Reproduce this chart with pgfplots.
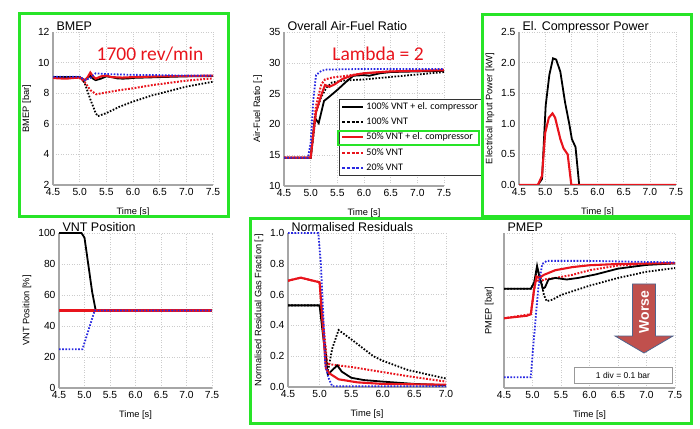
\documentclass[border=0pt]{standalone}
\usepackage{pgfplots}
\pgfplotsset{compat=1.18}
\usepackage{fontspec}
\setmainfont{Liberation Sans}
\newfontfamily\carlito{Carlito}
\definecolor{myred}{RGB}{232,20,28}
\definecolor{myblue}{RGB}{40,40,225}
\definecolor{mygreen}{RGB}{40,228,40}
\definecolor{arrowfill}{RGB}{192,80,77}
\definecolor{arrowedge}{RGB}{80,100,140}
\pgfplotsset{
 every axis title shift=0pt,
 base/.style={
  scale only axis, axis lines*=left, enlargelimits=false,
  axis line style={draw=gray!70, line width=1.6pt},
  grid=major, grid style={gray!40, line width=0.5pt, dash pattern=on 1pt off 1.5pt},
  major tick length=0pt,
  tick label style={font=\fontsize{10.3}{12}\selectfont},
  label style={font=\fontsize{9.3}{11}\selectfont},
  xlabel style={yshift=-5pt},
  title style={at={(0,1)}, anchor=base west, yshift=1pt, font=\fontsize{12.5}{14}\selectfont},
  xlabel={Time [s]},
  xmin=4.5, xmax=7.5, xtick={4.5,5.0,5.5,6.0,6.5,7.0,7.5},
  xticklabel style={/pgf/number format/.cd, fixed, fixed zerofill, precision=1},
  /pgf/number format/assume math mode=true,
  every axis plot/.append style={line width=1.8pt},
 },
 blk/.style={black, solid},
 blkd/.style={black, dash pattern=on 1.6pt off 1.6pt},
 rd/.style={myred, solid, line width=2.1pt},
 rdd/.style={myred, dash pattern=on 1.8pt off 1.5pt, line width=2.0pt},
 bld/.style={myblue, dash pattern=on 1.6pt off 1.6pt},
}
\begin{document}
\begin{tikzpicture}
\useasboundingbox (0,0) rectangle (700pt,428pt);

% ---------- BMEP ----------
\begin{axis}[base, at={(53pt,243pt)}, width=160pt, height=153pt,
  ymin=2, ymax=12, ytick={2,4,...,12}, ylabel={BMEP [bar]}, title={BMEP}]
\addplot[blkd] coordinates {(4.5,9.05)(5.0,9.05)(5.05,8.9)(5.1,8.6)(5.2,7.6)(5.3,6.7)(5.34,6.5)(5.5,6.7)(5.75,7.12)(6.0,7.45)(6.38,7.88)(6.5,7.98)(7.0,8.43)(7.5,8.75)};
\addplot[rdd] coordinates {(4.5,9.0)(5.0,9.0)(5.1,8.7)(5.2,8.2)(5.31,7.93)(5.5,8.05)(5.75,8.2)(6.0,8.32)(6.38,8.54)(7.0,8.82)(7.5,8.97)};
\addplot[blk] coordinates {(4.5,9.05)(5.0,9.05)(5.05,8.95)(5.1,8.85)(5.15,9.0)(5.2,9.15)(5.25,8.95)(5.3,8.85)(5.4,8.95)(5.5,9.1)(5.6,9.05)(5.7,8.97)(5.8,8.95)(5.9,8.96)(6.0,9.0)(6.5,9.05)(7.0,9.1)(7.5,9.12)};
\addplot[rd] coordinates {(4.5,9.0)(4.6,8.97)(4.75,8.95)(4.9,9.0)(5.0,9.02)(5.1,8.85)(5.15,9.05)(5.2,9.35)(5.25,9.1)(5.3,8.95)(5.4,9.1)(5.5,9.15)(5.6,9.05)(5.8,9.02)(6.0,9.05)(6.5,9.1)(7.0,9.12)(7.5,9.15)};
\addplot[bld] coordinates {(4.5,9.08)(5.0,9.08)(5.1,8.85)(5.2,9.0)(5.3,9.3)(5.5,9.25)(6.0,9.2)(6.5,9.18)(7.0,9.15)(7.5,9.15)};
\end{axis}

% ---------- AFR ----------
\begin{axis}[base, at={(284pt,242pt)}, width=160pt, height=154pt,
  ymin=10, ymax=35, ytick={10,15,...,35}, ylabel={Air-Fuel Ratio [-]}, title={Overall Air-Fuel Ratio},
  legend image code/.code={\draw[#1] (0pt,0pt) -- (21pt,0pt);},
  legend cell align=left,
  legend style={at={(0.344,0.565)}, anchor=north west, draw=black!80, line width=0.6pt,
    font=\fontsize{10}{11}\carlito, row sep=2.2pt, inner xsep=2pt, inner ysep=1.2pt,
    nodes={inner sep=2pt, text height=7pt, text depth=2pt}}]
\addlegendimage{black, line width=1.7pt}
\addlegendentry{100\% VNT + el. compressor}
\addlegendimage{black, line width=1.7pt, dash pattern=on 3pt off 1.6pt}
\addlegendentry{100\% VNT}
\addlegendimage{myred, line width=2.1pt}
\addlegendentry{50\% VNT + el. compressor}
\addlegendimage{myred, line width=2.1pt, dash pattern=on 3pt off 1.6pt}
\addlegendentry{50\% VNT}
\addlegendimage{myblue, line width=1.7pt, dash pattern=on 3pt off 1.6pt}
\addlegendentry{20\% VNT}
\addplot[blkd, forget plot] coordinates {(4.5,14.6)(5.0,14.6)(5.05,18)(5.1,22)(5.2,24.5)(5.3,26)(5.4,26.8)(5.6,27.1)(6.0,27.3)(6.5,27.7)(7.0,28.1)(7.5,28.5)};
\addplot[rdd, forget plot] coordinates {(4.5,14.6)(5.0,14.6)(5.05,19)(5.1,23)(5.2,26.5)(5.27,27.3)(5.4,27.6)(5.6,27.8)(6.0,28.3)(6.5,28.6)(7.5,28.9)};
\addplot[blk, forget plot] coordinates {(4.5,14.6)(5.0,14.6)(5.03,17)(5.08,21)(5.1,20.8)(5.15,20.2)(5.2,22)(5.25,23.8)(5.35,24.5)(5.5,25.6)(5.65,26.8)(5.8,27.9)(6.0,28.0)(6.1,27.9)(6.3,28.3)(6.5,28.5)(7.0,28.6)(7.5,28.7)};
\addplot[rd, forget plot] coordinates {(4.5,14.6)(5.0,14.6)(5.05,18.5)(5.1,22)(5.2,24.8)(5.27,26.4)(5.35,26.1)(5.45,26.5)(5.6,27.4)(5.8,28.0)(6.0,28.3)(6.5,28.6)(7.0,28.7)(7.5,28.8)};
\addplot[bld, forget plot] coordinates {(4.5,14.6)(4.95,14.6)(5.0,17)(5.05,24)(5.1,28)(5.2,28.7)(5.3,28.9)(6.0,29.0)(7.5,29.0)};
\end{axis}

% ---------- El. compressor power ----------
\begin{axis}[base, at={(519pt,243pt)}, width=157pt, height=153pt,
  ymin=0, ymax=2.5, ytick={0,0.5,...,2.5}, ylabel={Electrical Input Power [kW]}, title={El. Compressor Power},
  yticklabel style={/pgf/number format/.cd, fixed, fixed zerofill, precision=1}]
\addplot[blk] coordinates {(4.5,0)(4.86,0)(4.94,0.1)(5.01,1.3)(5.08,1.8)(5.15,2.07)(5.21,2.05)(5.29,1.85)(5.38,1.35)(5.46,1.0)(5.51,0.75)(5.58,0.62)(5.65,0)(7.5,0)};
\addplot[rd] coordinates {(4.5,0)(4.86,0)(4.94,0.15)(5.0,0.85)(5.07,1.1)(5.14,1.17)(5.19,1.1)(5.29,0.75)(5.35,0.6)(5.43,0.5)(5.5,0)(7.5,0)};
\end{axis}

% ---------- VNT position ----------
\begin{axis}[base, at={(59pt,40pt)}, width=153pt, height=155pt,
  ymin=0, ymax=100, ytick={0,20,...,100}, ylabel={VNT Position [\%]}, title={VNT Position}]
\addplot[blk] coordinates {(4.5,100)(4.94,100)(5.0,97)(5.15,62)(5.22,50)(7.5,50)};
\addplot[rd] coordinates {(4.5,50)(7.5,50)};
\addplot[bld] coordinates {(4.5,25)(4.96,25)(5.2,50)(7.5,50)};
\end{axis}

% ---------- Residuals ----------
\begin{axis}[base, at={(288pt,41pt)}, width=158pt, height=154pt,
  xmax=7.0, xtick={4.5,5.0,5.5,6.0,6.5,7.0},
  ymin=0, ymax=1.0, ytick={0,0.2,...,1.0}, ylabel={Normalised Residual Gas Fraction [-]}, title={Normalised Residuals},
  yticklabel style={/pgf/number format/.cd, fixed, fixed zerofill, precision=1}]
\addplot[blkd] coordinates {(4.5,0.53)(5.0,0.53)(5.05,0.4)(5.13,0.1)(5.2,0.25)(5.3,0.37)(5.5,0.31)(5.85,0.2)(6.0,0.17)(6.4,0.11)(7.0,0.055)};
\addplot[rdd] coordinates {(4.5,0.69)(4.7,0.71)(5.0,0.68)(5.05,0.45)(5.12,0.15)(5.3,0.14)(5.5,0.13)(5.8,0.11)(6.4,0.07)(7.0,0.035)};
\addplot[blk] coordinates {(4.5,0.53)(5.0,0.53)(5.05,0.35)(5.13,0.08)(5.2,0.11)(5.28,0.14)(5.35,0.1)(5.5,0.06)(5.7,0.045)(6.0,0.035)(6.5,0.02)(7.0,0.012)};
\addplot[rd] coordinates {(4.5,0.69)(4.7,0.71)(5.0,0.68)(5.05,0.4)(5.1,0.12)(5.15,0.09)(5.3,0.05)(5.6,0.03)(6.0,0.02)(7.0,0.015)};
\addplot[bld] coordinates {(4.5,1.0)(4.98,1.0)(5.02,0.8)(5.06,0.45)(5.09,0.14)(5.15,0.05)(5.2,0.005)(7.0,0.005)};
\end{axis}

% ---------- PMEP ----------
\begin{axis}[base, at={(504pt,40pt)}, width=171pt, height=155pt,
  ymin=0, ymax=5, ytick={0,1,...,5}, yticklabels={}, ylabel={PMEP [bar]}, title={PMEP}]
\addplot[blkd] coordinates {(4.5,3.2)(4.97,3.2)(5.03,3.4)(5.08,3.85)(5.15,3.5)(5.2,3.0)(5.25,2.8)(5.35,2.85)(5.5,3.0)(6.0,3.3)(6.5,3.55)(7.0,3.75)(7.5,3.87)};
\addplot[rdd] coordinates {(4.5,2.25)(4.97,2.38)(5.03,3.2)(5.07,3.55)(5.12,3.4)(5.2,3.5)(5.4,3.55)(5.7,3.65)(6.0,3.8)(6.5,3.95)(7.0,4.0)(7.5,4.03)};
\addplot[blk] coordinates {(4.5,3.2)(4.97,3.2)(5.03,3.4)(5.08,3.94)(5.12,3.6)(5.18,3.2)(5.22,3.25)(5.28,3.5)(5.4,3.55)(5.6,3.5)(5.8,3.55)(6.1,3.66)(6.5,3.85)(7.0,3.97)(7.5,4.02)};
\addplot[rd] coordinates {(4.5,2.25)(4.9,2.33)(4.97,2.38)(5.03,3.2)(5.07,3.6)(5.12,3.55)(5.2,3.65)(5.4,3.8)(5.7,3.9)(6.0,3.96)(6.5,4.0)(7.5,4.03)};
\addplot[bld] coordinates {(4.5,0.35)(4.97,0.35)(5.02,1.5)(5.1,3.2)(5.17,4.0)(5.25,4.1)(6.0,4.1)(7.5,4.05)};
\end{axis}

% ---------- annotations ----------
\draw[mygreen, line width=3pt] (19pt,414pt) rectangle (228pt,211pt);
\draw[mygreen, line width=3pt] (482pt,413pt) rectangle (691pt,211pt);
\draw[mygreen, line width=3pt] (250pt,209pt) rectangle (691pt,5pt);
\draw[mygreen, line width=1.4pt] (338pt,297pt) rectangle (479pt,283pt);
\node[myred, font=\fontsize{19.5}{22}\carlito] at (150pt,374pt) {1700 rev/min};
\node[myred, font=\fontsize{19.5}{22}\carlito] at (378pt,374pt) {Lambda = 2};
\draw[fill=arrowfill, draw=arrowedge, line width=0.8pt]
  (632.5pt,144pt) -- (655.5pt,144pt) -- (655.5pt,92pt) -- (673pt,92pt) -- (644pt,75pt) -- (615pt,92pt) -- (632.5pt,92pt) -- cycle;
\node[white, rotate=90, font=\fontsize{14}{16}\selectfont\bfseries] at (644pt,116pt) {Worse};
\draw[fill=white, draw=gray!80, line width=0.6pt] (574pt,61pt) rectangle (672pt,45pt);
\node[font=\fontsize{8.5}{10}\selectfont] at (623pt,53pt) {1 div = 0.1 bar};
\end{tikzpicture}
\end{document}
